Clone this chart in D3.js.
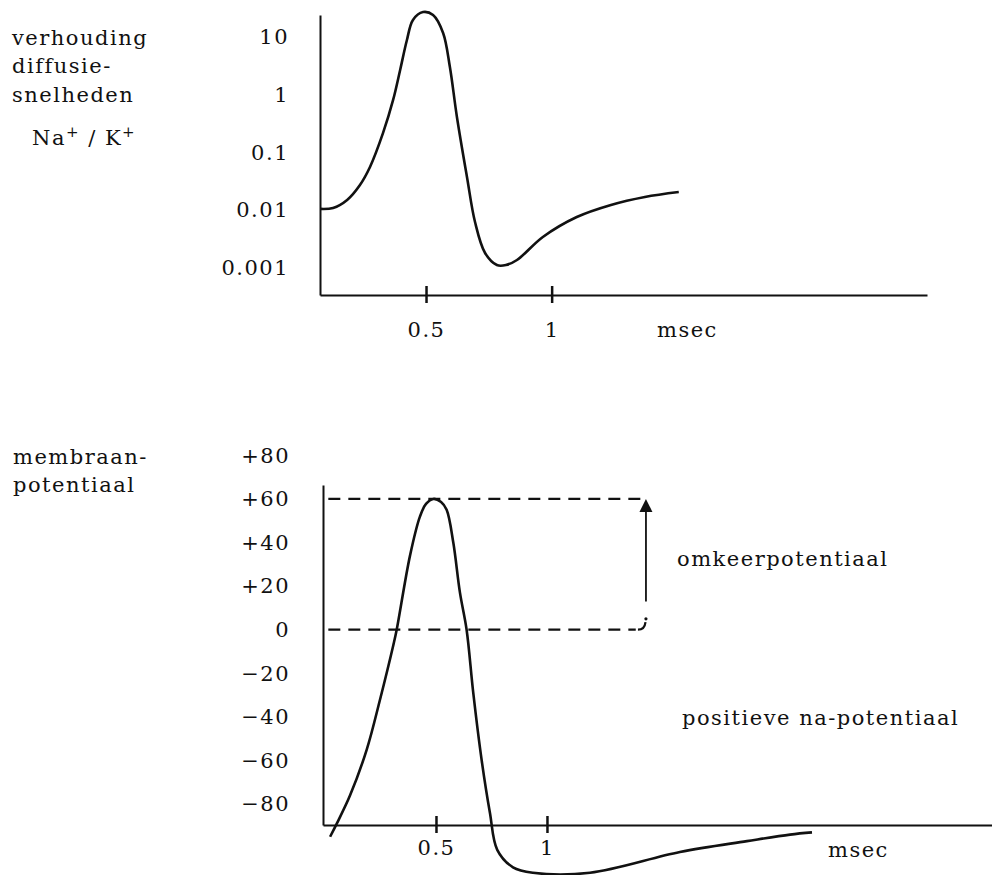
<!DOCTYPE html>
<html>
<head>
<meta charset="utf-8">
<script src="https://cdn.jsdelivr.net/npm/d3@7"></script>
<style>
  body { margin: 0; background: #fff; }
  text { font-family: "DejaVu Serif", serif; font-size: 21px; letter-spacing: 1.5px; fill: #111; }
</style>
</head>
<body>
<div id="visualization"></div>
<script>
// upper panel: ratio of diffusion speeds Na+/K+ (log scale) against time in msec
const ratioTime = [0.078, 0.130, 0.186, 0.237, 0.277, 0.329, 0.369, 0.397, 0.424, 0.448, 0.488,
  0.528, 0.568, 0.595, 0.623, 0.663, 0.695, 0.735, 0.782, 0.818, 0.862, 0.965, 1.100, 1.236, 1.371, 1.506];
const ratioValue = [0.0105, 0.0109, 0.0150, 0.0272, 0.0557, 0.216, 0.804, 2.66, 8.77, 19.5, 26.7,
  23.7, 11.6, 2.99, 0.408, 0.0374, 0.00622, 0.00181, 0.00112, 0.00112, 0.00137, 0.00343, 0.0076, 0.0123, 0.0169, 0.0206];
const ratioTicks = [10, 1, 0.1, 0.01, 0.001];
const ratioTickLabels = ['10', '1', '0.1', '0.01', '0.001'];

// lower panel: membrane potential in mV against time in msec
const potentialTime = [0.023, 0.053, 0.113, 0.188, 0.248, 0.308, 0.323, 0.383, 0.428, 0.455, 0.488,
  0.523, 0.548, 0.578, 0.608, 0.638, 0.668, 0.706, 0.743, 0.776, 0.847, 0.937, 1.194, 1.599, 1.901, 2.095, 2.194];
const potentialMv = [-95, -89, -76, -55, -32, -7, 0, 34, 52, 57.7, 60,
  58.6, 55, 40, 17, 0, -29, -60, -84, -101, -109, -111.5, -111.5, -102, -97, -94, -93];
const potentialTicks = [80, 60, 40, 20, 0, -20, -40, -60, -80];
const timeTicks = [0.5, 1];
const peakMv = 60;
const restMv = 0;

const width = 992;
const height = 875;

const svg = d3.select('#visualization')
  .append('svg')
  .attr('width', width)
  .attr('height', height);

// scales, calibrated on the drawn tick marks
const xTop = d3.scaleLinear().domain([0.078, 2.494]).range([320, 927]);
const yTop = d3.scaleLog().domain([10 ** -3.469, 10 ** 1.375]).range([295, 15]);
const xBottom = d3.scaleLinear().domain([-0.009, 3.005]).range([323, 992]);
const yBottom = d3.scaleLinear().domain([-89.6, 66.4]).range([825, 485]);

function styleAxis(g, labelOffset) {
  g.attr('font-size', null).attr('font-family', null);
  g.select('.domain').attr('stroke', '#111').attr('stroke-width', 2);
  if (labelOffset) {
    // time ticks cross the axis line
    g.selectAll('.tick line').attr('y1', -9).attr('y2', 8).attr('stroke', '#111').attr('stroke-width', 2.5);
    g.selectAll('.tick text').attr('y', labelOffset).attr('dy', null);
  } else {
    g.selectAll('.tick line').remove();
  }
}

// ---- upper panel ----
svg.append('g')
  .attr('transform', 'translate(320,0)')
  .call(d3.axisLeft(yTop)
    .tickValues(ratioTicks)
    .tickFormat((d, i) => ratioTickLabels[i])
    .tickSize(0)
    .tickSizeOuter(0)
    .tickPadding(31))
  .call((g) => styleAxis(g));

svg.append('g')
  .attr('transform', 'translate(0,295)')
  .call(d3.axisBottom(xTop)
    .tickValues(timeTicks)
    .tickFormat((d) => String(d))
    .tickSizeOuter(0))
  .call((g) => styleAxis(g, 42));

svg.append('path')
  .datum(ratioTime.map((t, i) => [t, ratioValue[i]]))
  .attr('fill', 'none')
  .attr('stroke', '#111')
  .attr('stroke-width', 2.6)
  .attr('stroke-linejoin', 'round')
  .attr('d', d3.line()
    .x((d) => xTop(d[0]))
    .y((d) => yTop(d[1]))
    .curve(d3.curveCatmullRom.alpha(0.5)));

svg.append('text').attr('x', 657).attr('y', 337).text('msec');

const topLabel = svg.append('text').attr('x', 12).attr('y', 45);
topLabel.append('tspan').attr('x', 12).text('verhouding');
topLabel.append('tspan').attr('x', 12).attr('dy', 28).text('diffusie-');
topLabel.append('tspan').attr('x', 12).attr('dy', 29).text('snelheden');

const ionLabel = svg.append('text').attr('x', 32).attr('y', 145);
ionLabel.append('tspan').text('Na');
ionLabel.append('tspan').attr('dy', -8).style('font-size', '15px').text('+');
ionLabel.append('tspan').attr('dy', 8).text(' / K');
ionLabel.append('tspan').attr('dy', -8).style('font-size', '15px').text('+');

// ---- lower panel ----
svg.append('g')
  .attr('transform', 'translate(323,0)')
  .call(d3.axisLeft(yBottom)
    .tickValues(potentialTicks)
    .tickFormat((d) => (d > 0 ? `+${d}` : d < 0 ? `\u2212${-d}` : '0'))
    .tickSize(0)
    .tickSizeOuter(0)
    .tickPadding(33))
  .call((g) => styleAxis(g));

svg.append('g')
  .attr('transform', 'translate(0,825)')
  .call(d3.axisBottom(xBottom)
    .tickValues(timeTicks)
    .tickFormat((d) => String(d))
    .tickSizeOuter(0))
  .call((g) => styleAxis(g, 30));

// dashed reference levels at the peak and at zero
const dashStart = 0.015;
const dashEnd = 1.428;
const arrowTime = 1.446;

svg.append('line')
  .attr('x1', xBottom(dashStart)).attr('x2', xBottom(dashEnd))
  .attr('y1', yBottom(peakMv)).attr('y2', yBottom(peakMv))
  .attr('stroke', '#111').attr('stroke-width', 2.2)
  .attr('stroke-dasharray', '12,8');

svg.append('line')
  .attr('x1', xBottom(dashStart)).attr('x2', xBottom(1.40))
  .attr('y1', yBottom(restMv)).attr('y2', yBottom(restMv))
  .attr('stroke', '#111').attr('stroke-width', 2.2)
  .attr('stroke-dasharray', '12,8');

svg.append('path')
  .attr('fill', 'none').attr('stroke', '#111').attr('stroke-width', 2.2)
  .attr('d', `M${xBottom(1.41)},${yBottom(restMv)} Q${xBottom(1.44)},${yBottom(restMv)} ${xBottom(1.444)},${yBottom(3.5)}`);

svg.append('circle')
  .attr('cx', xBottom(arrowTime)).attr('cy', yBottom(5))
  .attr('r', 1.6).attr('fill', '#111');

// arrow "omkeerpotentiaal" from zero level up to the peak level
svg.append('line')
  .attr('x1', xBottom(arrowTime)).attr('x2', xBottom(arrowTime))
  .attr('y1', yBottom(13)).attr('y2', yBottom(peakMv) + 12)
  .attr('stroke', '#111').attr('stroke-width', 1.8);

const ax = xBottom(arrowTime);
const ay = yBottom(peakMv);
svg.append('path')
  .attr('fill', '#111')
  .attr('d', `M${ax},${ay} L${ax - 6.5},${ay + 13} L${ax + 6.5},${ay + 13} Z`);

svg.append('path')
  .datum(potentialTime.map((t, i) => [t, potentialMv[i]]))
  .attr('fill', 'none')
  .attr('stroke', '#111')
  .attr('stroke-width', 2.6)
  .attr('stroke-linejoin', 'round')
  .attr('d', d3.line()
    .x((d) => xBottom(d[0]))
    .y((d) => yBottom(d[1]))
    .curve(d3.curveCatmullRom.alpha(0.5)));

svg.append('text').attr('x', 677).attr('y', 566).text('omkeerpotentiaal');
svg.append('text').attr('x', 682).attr('y', 725).text('positieve na-potentiaal');
svg.append('text').attr('x', 828).attr('y', 857).text('msec');

const bottomLabel = svg.append('text').attr('x', 13).attr('y', 464);
bottomLabel.append('tspan').attr('x', 13).text('membraan-');
bottomLabel.append('tspan').attr('x', 13).attr('dy', 28).text('potentiaal');
</script>
</body>
</html>
